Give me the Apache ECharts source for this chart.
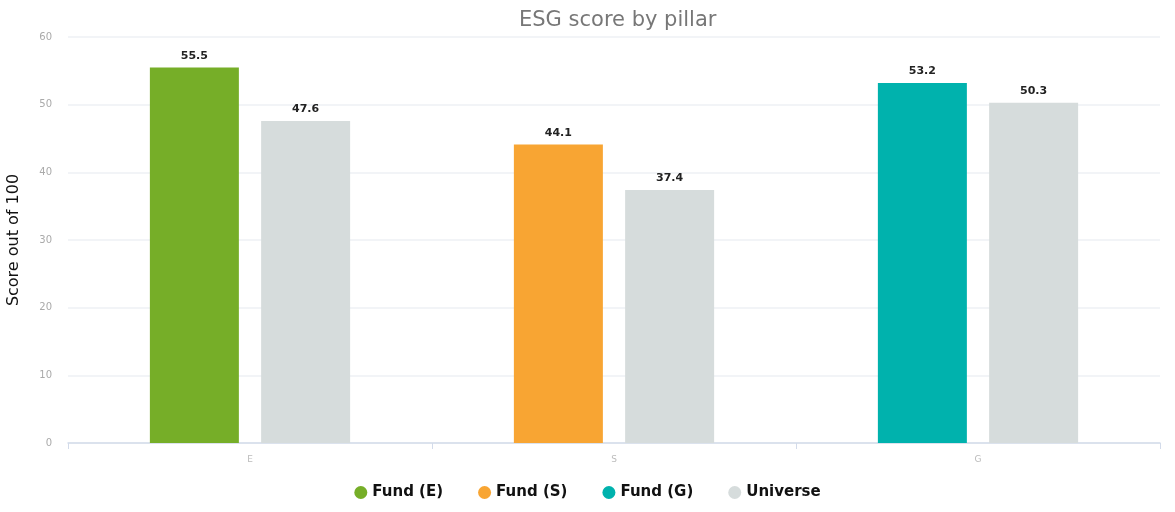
<!DOCTYPE html>
<html>
<head>
<meta charset="utf-8">
<script src="https://cdn.jsdelivr.net/npm/echarts@6/dist/echarts.min.js"></script>
<style>
  html, body { margin: 0; padding: 0; background: #fff; }
  #box { width: 1175px; height: 512px; }
</style>
</head>
<body>
<div id="box"></div>
<script>
// data
var pillars = ['E', 'S', 'G'];
var fundE = [55.5, '-', '-'];
var fundS = ['-', 44.1, '-'];
var fundG = ['-', '-', 53.2];
var universe = [47.6, 37.4, 50.3];
var yTicks = [0, 10, 20, 30, 40, 50, 60];

var myChart = echarts.init(document.getElementById('box'));

var labelStyle = {
    show: true,
    position: 'top',
    distance: 6,
    color: '#222',
    fontSize: 11,
    fontWeight: 'bold',
    fontFamily: 'DejaVu Sans'
};

function fundSeries(name, data, color) {
    return {
        name: name,
        type: 'bar',
        stack: 'fund',
        data: data,
        barWidth: 89,
        barGap: '25%',
        itemStyle: { color: color },
        label: labelStyle
    };
}

var option = {
    title: {
        text: 'ESG score by pillar',
        left: 514,
        top: 5,
        textStyle: {
            color: '#777',
            fontSize: 21,
            fontWeight: 'normal',
            fontFamily: 'DejaVu Sans'
        }
    },
    legend: {
        bottom: 7,
        left: 'center',
        icon: 'circle',
        itemWidth: 13,
        itemHeight: 13,
        itemGap: 35,
        textStyle: {
            color: '#111',
            fontSize: 15,
            fontWeight: 'bold',
            fontFamily: 'DejaVu Sans'
        },
        data: ['Fund (E)', 'Fund (S)', 'Fund (G)', 'Universe']
    },
    grid: {
        left: 68,
        right: 15,
        top: 37,
        bottom: 69,
        outerBoundsMode: 'none'
    },
    xAxis: {
        type: 'category',
        data: pillars,
        axisLine: { lineStyle: { color: '#d3dbea', width: 1.5 } },
        axisTick: { show: true, length: 6, lineStyle: { color: '#d3dbea' } },
        axisLabel: { color: '#bbb', fontSize: 9, margin: 12, fontFamily: 'DejaVu Sans' }
    },
    yAxis: {
        type: 'value',
        min: yTicks[0],
        max: yTicks[yTicks.length - 1],
        interval: 10,
        name: 'Score out of 100',
        nameLocation: 'middle',
        nameGap: 46,
        nameTextStyle: { color: '#111', fontSize: 16, fontFamily: 'DejaVu Sans' },
        axisLine: { show: false },
        axisTick: { show: false },
        axisLabel: { color: '#aaa', fontSize: 10, margin: 16, fontFamily: 'DejaVu Sans' },
        splitLine: { lineStyle: { color: '#eef0f4', width: 1.5 } }
    },
    series: [
        fundSeries('Fund (E)', fundE, '#76ae28'),
        fundSeries('Fund (S)', fundS, '#f8a533'),
        fundSeries('Fund (G)', fundG, '#00b2ad'),
        {
            name: 'Universe',
            type: 'bar',
            data: universe,
            barWidth: 89,
            barGap: '25%',
            itemStyle: { color: '#d6dcdc' },
            label: labelStyle
        }
    ]
};

myChart.setOption(option);
</script>
</body>
</html>
